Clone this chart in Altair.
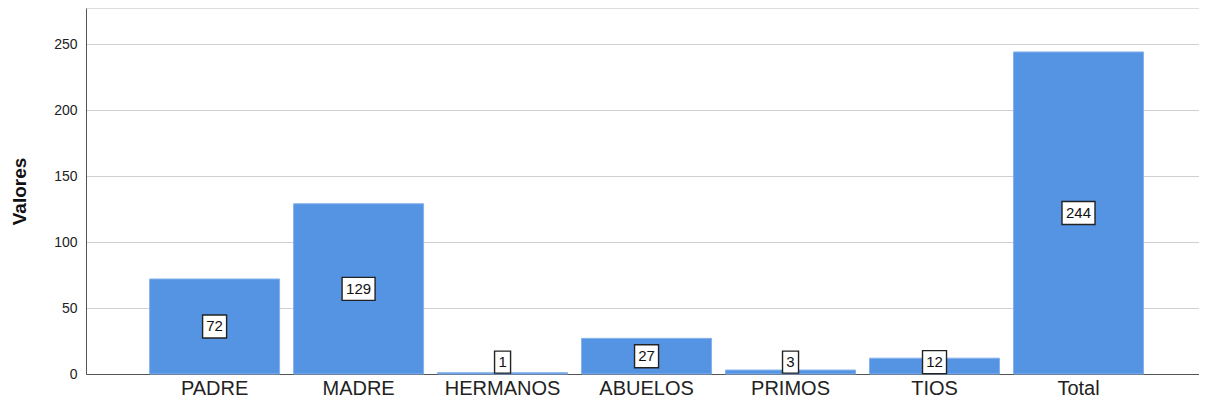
import altair as alt
import pandas as pd

categories = ["PADRE", "MADRE", "HERMANOS", "ABUELOS", "PRIMOS", "TIOS", "Total"]
values = [72, 129, 1, 27, 3, 12, 244]

df = pd.DataFrame({"cat": categories, "v": values})

FONT = "Liberation Sans"
BAR = "#5594E3"

box_paths = [
    "M-0.667,-0.917L0.667,-0.917L0.667,0.917L-0.667,0.917Z",
    "M-1,-0.958L1,-0.958L1,0.958L-1,0.958Z",
    "M-1.375,-0.958L1.375,-0.958L1.375,0.958L-1.375,0.958Z",
]

x_scale = alt.Scale(paddingInner=0.097, paddingOuter=0.4135, align=0.534)

x_enc = alt.X(
    "cat:N",
    sort=categories,
    title=None,
    scale=x_scale,
    axis=alt.Axis(
        labelAngle=0,
        labelFont=FONT,
        labelFontSize=20,
        labelColor="#222222",
        labelPadding=4,
        ticks=False,
        domainColor="#555555",
        domainWidth=1,
        grid=False,
    ),
)

y_scale = alt.Scale(domain=[0, 277.3], nice=False)

bars = alt.Chart(df).mark_bar(color=BAR, stroke="#86B2EC", strokeWidth=1).encode(
    x=x_enc,
    y=alt.Y(
        "v:Q",
        title="Valores",
        scale=y_scale,
        axis=alt.Axis(
            values=[0, 50, 100, 150, 200, 250],
            labelFont=FONT,
            labelFontSize=14,
            labelColor="#222222",
            labelPadding=9,
            ticks=False,
            domainColor="#555555",
            domainWidth=1,
            gridColor="#D0D0D0",
            gridWidth=1,
            titleFont=FONT,
            titleFontSize=19,
            titleFontWeight="bold",
            titleColor="#111111",
            titlePadding=24,
        ),
    ),
)

base_lab = alt.Chart(df).transform_calculate(
    ly="max(datum.v / 2, 9)",
    nd="toString(length(toString(datum.v)))",
)

boxes = base_lab.mark_point(
    filled=True, fill="white", stroke="#222222", strokeWidth=1.4, size=576, opacity=1
).encode(
    x=alt.X("cat:N", sort=categories, scale=x_scale),
    y=alt.Y("ly:Q", scale=y_scale),
    shape=alt.Shape(
        "nd:N",
        scale=alt.Scale(domain=["1", "2", "3"], range=box_paths),
        legend=None,
    ),
)

texts = base_lab.mark_text(
    font=FONT, fontSize=15, color="#111111", align="center", baseline="middle"
).encode(
    x=alt.X("cat:N", sort=categories, scale=x_scale),
    y=alt.Y("ly:Q", scale=y_scale),
    text="v:Q",
)

chart = (
    alt.layer(bars, boxes, texts)
    .properties(
        width=1113,
        height=366,
        autosize=alt.AutoSizeParams(type="none"),
        padding={"left": 78, "top": 0, "right": 0, "bottom": 24},
    )
    .configure_view(strokeWidth=0)
    .configure(background="white")
)

chart.save("out.html", embed_options={"renderer": "svg", "actions": False})
